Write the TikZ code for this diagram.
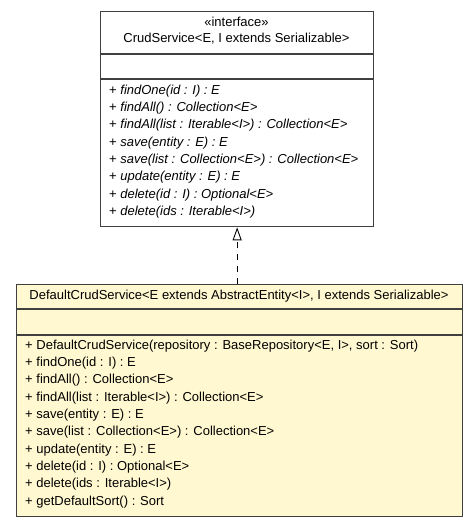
\documentclass[tikz,border=0pt]{standalone}
\usepackage{fontspec}
\setmainfont{Liberation Sans}
\usetikzlibrary{arrows.meta}
\definecolor{classfill}{RGB}{255,248,208}
\definecolor{classline}{RGB}{64,64,64}
\begin{document}
\begin{tikzpicture}[x=1pt,y=-1pt,
  box/.style={draw=classline,line width=1.3pt,anchor=north west,inner sep=0pt},
  sep/.style={draw=classline,line width=1.3pt},
  txt/.style={anchor=west,inner sep=0pt,font=\fontsize{13}{15}\selectfont},
  ctxt/.style={anchor=center,inner sep=0pt,font=\fontsize{13}{15}\selectfont},
  realize/.style={draw=black,line width=0.9pt,dash pattern=on 6pt off 6pt,-{Triangle[open,length=13pt,width=9pt]}}]
\useasboundingbox (0,0) rectangle (473,527);
% interface box
\node[box,fill=white,minimum width=273pt,minimum height=215pt] (iface) at (100,11) {};
\draw[sep] (100,54) -- (373,54);
\draw[sep] (100,79) -- (373,79);
\node[ctxt] (st) at (236.5,22) {«interface»};
\node[ctxt] (in) at (236.5,39) {CrudService<E, I extends Serializable>};
\foreach \t [count=\i from 0] in {%
  {+ \textit{findOne(id : I) : E}},
  {+ \textit{findAll() : Collection<E>}},
  {+ \textit{findAll(list : Iterable<I>) : Collection<E>}},
  {+ \textit{save(entity : E) : E}},
  {+ \textit{save(list : Collection<E>) : Collection<E>}},
  {+ \textit{update(entity : E) : E}},
  {+ \textit{delete(id : I) : Optional<E>}},
  {+ \textit{delete(ids : Iterable<I>)}}}
  \node[txt] (im\i) at (109,91+17.3*\i) {\t};
% class box
\node[box,fill=classfill,minimum width=446pt,minimum height=232pt] (impl) at (16,284) {};
\draw[sep] (16,309) -- (462,309);
\draw[sep] (16,335) -- (462,335);
\node[ctxt] (cn) at (239,296) {DefaultCrudService<E extends AbstractEntity<I>, I extends Serializable>};
\foreach \t [count=\i from 0] in {%
  {+ DefaultCrudService(repository : BaseRepository<E, I>, sort : Sort)},
  {+ findOne(id : I) : E},
  {+ findAll() : Collection<E>},
  {+ findAll(list : Iterable<I>) : Collection<E>},
  {+ save(entity : E) : E},
  {+ save(list : Collection<E>) : Collection<E>},
  {+ update(entity : E) : E},
  {+ delete(id : I) : Optional<E>},
  {+ delete(ids : Iterable<I>)},
  {+ getDefaultSort() : Sort}}
  \node[txt] (cm\i) at (25,346+17.3*\i) {\t};
\coordinate (tip) at (iface.south);
\draw[realize] (impl.north -| tip) -- (tip);
\end{tikzpicture}
\end{document}
